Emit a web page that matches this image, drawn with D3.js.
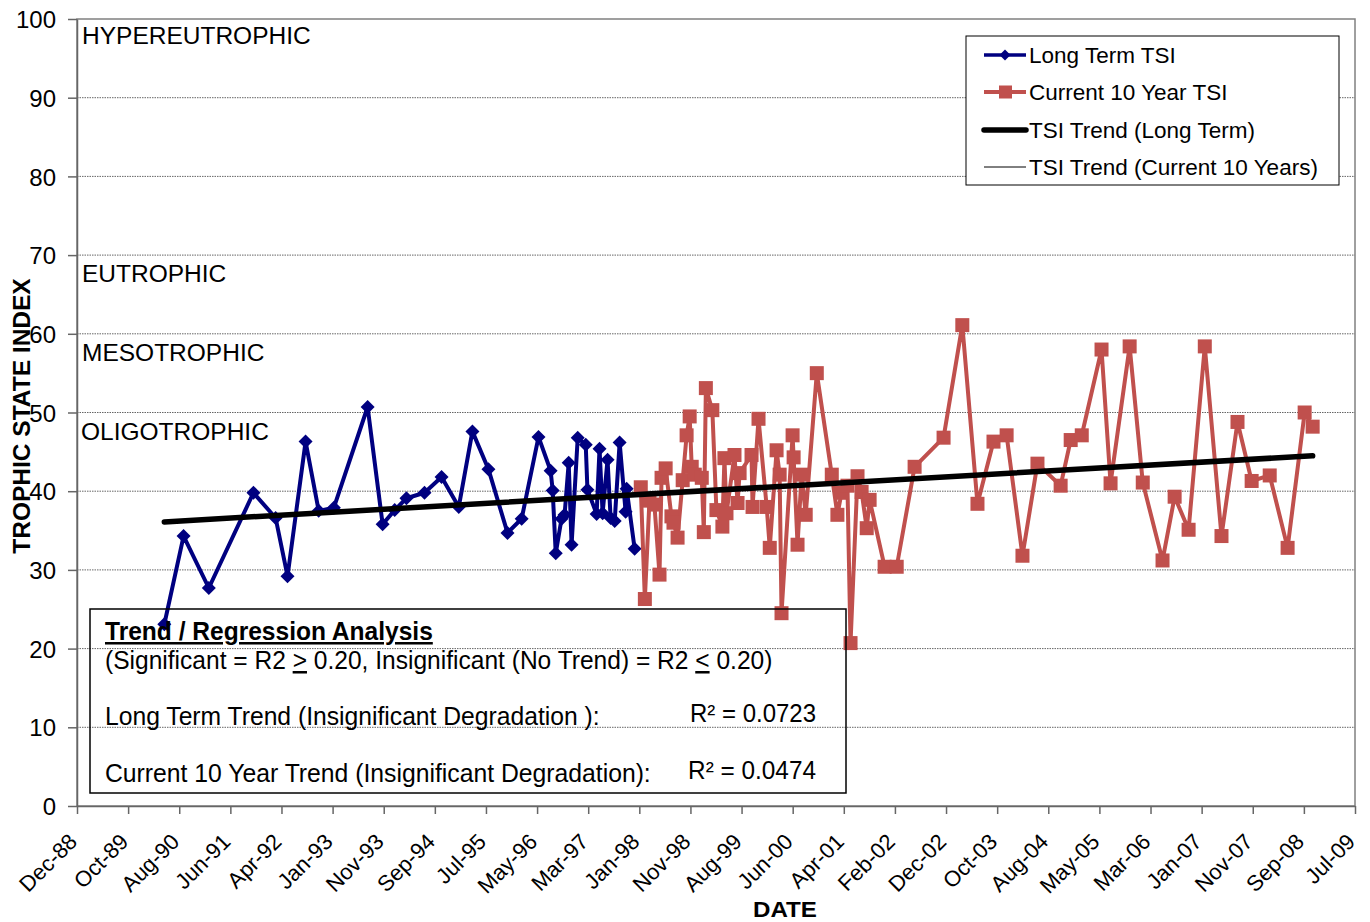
<!DOCTYPE html>
<html lang="en">
<head>
<meta charset="UTF-8">
<title>Trophic State Index</title>
<script src="https://d3js.org/d3.v7.min.js"></script>
<style>
  body { margin: 0; background: #fff; }
  svg { display: block; font-family: 'Liberation Sans', Arial, sans-serif; }
  .narrow { font-family: 'Liberation Sans Narrow', 'Arial Narrow', 'Liberation Sans', sans-serif; }
</style>
</head>
<body>
<svg id="chart" width="1370" height="922"></svg>
<script>
// Long term TSI samples (blue)
const longTermDates = ["1990-05-20","1990-09-10","1991-02-05","1991-10-25","1992-03-03","1992-05-12","1992-08-26","1992-11-11",
  "1993-02-08","1993-08-25","1993-11-21","1994-01-31","1994-04-10","1994-07-25","1994-11-02","1995-02-11","1995-05-02",
  "1995-08-04","1995-11-24","1996-02-15","1996-05-24","1996-08-03","1996-08-15","1996-09-02","1996-10-06","1996-10-24",
  "1996-11-17","1996-12-04","1997-01-09","1997-02-25","1997-03-07","1997-04-30","1997-05-17","1997-06-04","1997-07-03",
  "1997-07-21","1997-08-14","1997-09-12","1997-10-17","1997-10-23","1997-12-09"];
const longTermTSI = [23.1,34.3,27.7,39.8,36.6,29.2,46.3,37.5,
  37.9,50.7,35.8,37.6,39.1,39.8,41.8,38.0,47.6,
  42.8,34.7,36.5,46.9,42.6,40.1,32.1,36.5,37.0,
  43.6,33.2,46.8,45.9,40.2,37.1,45.4,37.2,44.0,
  36.6,36.2,46.2,37.4,40.3,32.7];

// Current 10 year TSI samples (red)
const currentDates = ["1998-01-14","1998-02-07","1998-03-06","1998-04-04","1998-05-04","1998-05-16","1998-06-09","1998-07-13",
  "1998-07-25","1998-08-18","1998-09-17","1998-10-10","1998-10-28","1998-11-09","1998-11-27","1999-01-07","1999-01-19",
  "1999-01-31","1999-03-10","1999-04-03","1999-05-08","1999-05-20","1999-06-01","1999-07-18","1999-08-05","1999-08-17",
  "1999-10-26","1999-11-01","1999-12-06","2000-01-23","2000-02-10","2000-03-21","2000-04-08","2000-04-19","2000-06-23",
  "2000-06-29","2000-07-22","2000-08-15","2000-09-08","2000-11-12","2001-02-08","2001-03-13","2001-04-06","2001-05-11",
  "2001-05-29","2001-07-09","2001-08-02","2001-09-01","2001-09-18","2001-12-15","2002-02-24","2002-06-09","2002-11-26",
  "2003-03-16","2003-06-13","2003-09-15","2003-12-01","2004-03-03","2004-05-30","2004-10-13","2004-12-11","2005-02-14",
  "2005-06-10","2005-08-02","2005-11-22","2006-02-07","2006-06-03","2006-08-13","2006-11-03","2007-02-06","2007-05-15",
  "2007-08-17","2007-11-08","2008-02-22","2008-06-06","2008-09-14","2008-10-31"];
const currentTSI = [40.5,26.3,38.8,38.3,29.4,41.7,42.9,36.8,
  36.0,34.1,41.4,47.1,49.5,43.1,42.1,41.7,34.8,
  53.1,50.3,37.6,35.5,44.2,37.2,44.6,38.5,42.3,
  44.6,38.0,49.2,38.0,32.8,45.2,42.1,24.5,47.1,
  44.3,33.2,42.1,37.0,55.0,42.1,37.0,39.8,40.7,
  20.7,41.9,39.9,35.3,38.9,30.4,30.4,43.1,46.8,
  61.1,38.4,46.3,47.1,31.8,43.5,40.7,46.5,47.1,
  58.0,41.0,58.4,41.1,31.2,39.3,35.1,58.4,34.3,
  48.8,41.3,42.0,32.8,50.0,48.2];

// Trend line end points
const trendLongDates = ["1990-05-20", "2008-10-31"];
const trendLongTSI = [36.1, 44.5];
const trendCurrentDates = ["1998-01-14", "2008-10-31"];
const trendCurrentTSI = [39.7, 44.5];

const yTicks = [0,10,20,30,40,50,60,70,80,90,100];
const gridValues = [10,20,30,40,50,60,70,80,90];
const xTickLabels = ["Dec-88","Oct-89","Aug-90","Jun-91","Apr-92","Jan-93","Nov-93","Sep-94","Jul-95","May-96","Mar-97",
  "Jan-98","Nov-98","Aug-99","Jun-00","Apr-01","Feb-02","Dec-02","Oct-03","Aug-04","May-05","Mar-06","Jan-07","Nov-07",
  "Sep-08","Jul-09"];
const trophicLabels = ["HYPEREUTROPHIC","EUTROPHIC","MESOTROPHIC","OLIGOTROPHIC"];
const trophicLevels = [100,70,60,50];
const legendLabels = ["Long Term TSI","Current 10 Year TSI","TSI Trend (Long Term)","TSI Trend (Current 10 Years)"];

const svg = d3.select("#chart");
const plotLeft = 77, plotRight = 1355, plotTop = 19, plotBottom = 806;
const parse = d3.utcParse("%Y-%m-%d");

// Excel style date axis: 300 day major unit
const axisStart = new Date(Date.UTC(1988, 11, 23, 12));
const tickDates = xTickLabels.map((_, i) => d3.utcDay.offset(axisStart, i * 300));
const x = d3.scaleUtc().domain([tickDates[0], tickDates[tickDates.length - 1]]).range([plotLeft, plotRight]);
const y = d3.scaleLinear().domain([0, 100]).range([plotBottom, plotTop]);

const blue = "#000080", red = "#C0504D";

// gridlines
svg.append("g").selectAll("line").data(gridValues).join("line")
  .attr("x1", plotLeft).attr("x2", plotRight)
  .attr("y1", d => y(d)).attr("y2", d => y(d))
  .attr("stroke", "#666").attr("stroke-width", 1).attr("stroke-dasharray", "1.5,1");

// plot border
svg.append("rect").attr("x", plotLeft).attr("y", plotTop)
  .attr("width", plotRight - plotLeft).attr("height", plotBottom - plotTop)
  .attr("fill", "none").attr("stroke", "#808080").attr("stroke-width", 1.5);

// axes
const xAxis = svg.append("g").attr("transform", `translate(0,${plotBottom})`)
  .call(d3.axisBottom(x).tickValues(tickDates).tickSize(8).tickSizeOuter(0)
    .tickFormat((d, i) => xTickLabels[i]));
xAxis.select(".domain").attr("stroke", "#666").attr("stroke-width", 1.5);
xAxis.selectAll(".tick line").attr("stroke", "#666").attr("stroke-width", 1.5);
xAxis.selectAll(".tick text")
  .attr("x", 0).attr("y", 0).attr("dy", 0)
  .attr("transform", "translate(1,37) rotate(-45)")
  .attr("text-anchor", "end")
  .attr("font-size", 22).attr("font-family", "'Liberation Sans', Arial, sans-serif").attr("fill", "#000");

const yAxis = svg.append("g").attr("transform", `translate(${plotLeft},0)`)
  .call(d3.axisLeft(y).tickValues(yTicks).tickSize(9).tickSizeOuter(0));
yAxis.select(".domain").attr("stroke", "#666").attr("stroke-width", 1.5);
yAxis.selectAll(".tick line").attr("stroke", "#666").attr("stroke-width", 1.5);
yAxis.selectAll(".tick text").attr("x", -21).attr("dy", "0.36em")
  .attr("font-size", 24).attr("font-family", "'Liberation Sans', Arial, sans-serif").attr("fill", "#000");

// trophic class labels
svg.append("g").selectAll("text").data(trophicLabels).join("text")
  .attr("x", (d, i) => i === 3 ? 81 : 82)
  .attr("y", (d, i) => y(trophicLevels[i]) + (i === 0 ? 25 : 27))
  .attr("font-size", 24.5).attr("fill", "#000")
  .text(d => d);

// series
const blueData = longTermDates.map((d, i) => ({ date: parse(d), v: longTermTSI[i] }));
const redData = currentDates.map((d, i) => ({ date: parse(d), v: currentTSI[i] }));
const line = d3.line().x(d => x(d.date)).y(d => y(d.v));

svg.append("path").datum(blueData).attr("d", line)
  .attr("fill", "none").attr("stroke", blue).attr("stroke-width", 4).attr("stroke-linejoin", "round");
svg.append("g").selectAll("path").data(blueData).join("path")
  .attr("d", d3.symbol(d3.symbolSquare, 98))
  .attr("transform", d => `translate(${x(d.date)},${y(d.v)}) rotate(45)`)
  .attr("fill", blue);

svg.append("path").datum(redData).attr("d", line)
  .attr("fill", "none").attr("stroke", red).attr("stroke-width", 4).attr("stroke-linejoin", "round");
svg.append("g").selectAll("rect").data(redData).join("rect")
  .attr("x", d => x(d.date) - 7).attr("y", d => y(d.v) - 7)
  .attr("width", 14).attr("height", 14)
  .attr("fill", red);

// trend lines
const trendLong = trendLongDates.map((d, i) => ({ date: parse(d), v: trendLongTSI[i] }));
const trendCurrent = trendCurrentDates.map((d, i) => ({ date: parse(d), v: trendCurrentTSI[i] }));
svg.append("path").datum(trendLong).attr("d", line)
  .attr("fill", "none").attr("stroke", "#000").attr("stroke-width", 5.5).attr("stroke-linecap", "round");
svg.append("path").datum(trendCurrent).attr("d", line)
  .attr("fill", "none").attr("stroke", "#000").attr("stroke-width", 1);

// legend
const legend = svg.append("g");
legend.append("rect").attr("x", 966).attr("y", 36).attr("width", 373).attr("height", 149)
  .attr("fill", "#fff").attr("stroke", "#000").attr("stroke-width", 1);
const legendY = [55, 92, 130, 167];
const legendStroke = [blue, red, "#000", "#000"];
const legendWidth = [3.5, 4, 5.5, 1];
legendLabels.forEach((label, i) => {
  const g = legend.append("g").attr("transform", `translate(0,${legendY[i]})`);
  g.append("line").attr("x1", 984).attr("x2", 1026).attr("y1", 0).attr("y2", 0)
    .attr("stroke", legendStroke[i]).attr("stroke-width", legendWidth[i])
    .attr("stroke-linecap", i === 2 ? "round" : "butt");
  if (i === 0) {
    g.append("path").attr("d", d3.symbol(d3.symbolSquare, 60)())
      .attr("transform", "translate(1005,0) rotate(45)").attr("fill", blue);
  } else if (i === 1) {
    g.append("rect").attr("x", 999).attr("y", -6.5).attr("width", 13).attr("height", 13).attr("fill", red);
  }
  g.append("text").attr("x", 1029).attr("dy", "0.36em").attr("font-size", 22.5).text(label);
});

// regression text box; texts squeezed horizontally to a narrow face
const box = svg.append("g");
box.append("rect").attr("x", 90).attr("y", 609).attr("width", 756).attr("height", 184)
  .attr("fill", "none").attr("stroke", "#000").attr("stroke-width", 1.5);

function narrowText(x0, y0, width, anchor, bold) {
  const t = box.append("text").attr("class", "narrow")
    .attr("font-size", 25).attr("font-weight", bold ? "bold" : "normal")
    .attr("text-anchor", anchor);
  t.fit = () => {
    const w = t.node().getComputedTextLength();
    t.attr("transform", `translate(${x0},${y0}) scale(${width / w},1)`);
    return t;
  };
  return t;
}

narrowText(105, 640, 328, "start", true)
  .attr("text-decoration", "underline").text("Trend / Regression Analysis").fit();

const crit = narrowText(105, 669, 668, "start", false);
crit.append("tspan").text("(Significant = R2 ");
crit.append("tspan").attr("text-decoration", "underline").text(">");
crit.append("tspan").text(" 0.20, Insignificant (No Trend) = R2 ");
crit.append("tspan").attr("text-decoration", "underline").text("<");
crit.append("tspan").text(" 0.20)");
crit.fit();

narrowText(105, 725, 495, "start", false).text("Long Term Trend (Insignificant Degradation ):").fit();
narrowText(816, 722, 126, "end", false).text("R² = 0.0723").fit();
narrowText(105, 782, 546, "start", false).text("Current 10 Year Trend (Insignificant Degradation):").fit();
narrowText(816, 779, 128, "end", false).text("R² = 0.0474").fit();

// axis titles
svg.append("text").attr("transform", "translate(30,416) rotate(-90)").attr("text-anchor", "middle")
  .attr("font-size", 24.5).attr("font-weight", "bold").text("TROPHIC STATE INDEX");
const dateTitle = svg.append("text").attr("class", "narrow").attr("text-anchor", "middle")
  .attr("font-size", 22).attr("font-weight", "bold").text("DATE");
dateTitle.attr("transform", `translate(785,917) scale(${64 / dateTitle.node().getComputedTextLength()},1)`);
</script>
</body>
</html>
